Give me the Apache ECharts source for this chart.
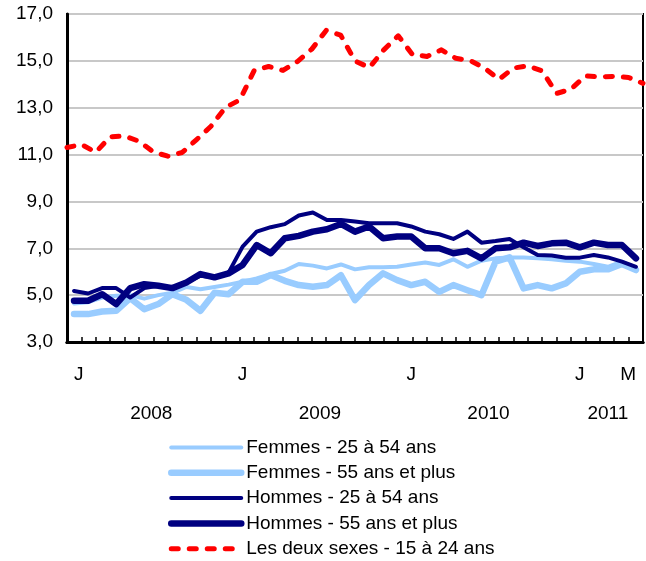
<!DOCTYPE html>
<html>
<head>
<meta charset="utf-8">
<script src="https://cdn.jsdelivr.net/npm/echarts@6/dist/echarts.min.js"></script>
<style>
  html, body { margin: 0; padding: 0; background: #fff; }
  #chart { width: 646px; height: 561px; }
</style>
</head>
<body>
<div id="chart"></div>
<script>
// mois, janvier 2008 a mai 2011
const months = [
  '2008-01','2008-02','2008-03','2008-04','2008-05','2008-06','2008-07','2008-08','2008-09','2008-10','2008-11','2008-12',
  '2009-01','2009-02','2009-03','2009-04','2009-05','2009-06','2009-07','2009-08','2009-09','2009-10','2009-11','2009-12',
  '2010-01','2010-02','2010-03','2010-04','2010-05','2010-06','2010-07','2010-08','2010-09','2010-10','2010-11','2010-12',
  '2011-01','2011-02','2011-03','2011-04','2011-05'
]
const tickLabelIndex = [0, 12, 24, 36, 40]
const tickLabelText = ['J', 'J', 'J', 'J', 'M']
const years = ['2008', '2009', '2010', '2011']
const yearCenters = [5.5, 17.5, 29.5, 38]

const femmes2554 = [4.64, 4.7, 4.9, 4.97, 5.0, 4.85, 5.0, 5.1, 5.35, 5.25, 5.35, 5.45, 5.57, 5.71, 5.9, 6.04, 6.33, 6.26, 6.14, 6.31,
  6.1, 6.19, 6.19, 6.21, 6.31, 6.39, 6.29, 6.53, 6.21, 6.47, 6.57, 6.61, 6.61, 6.57, 6.53, 6.47, 6.43, 6.33, 6.21, 6.43, 6.07]
const femmes55 = [4.19, 4.19, 4.3, 4.33, 4.87, 4.4, 4.62, 5.04, 4.8, 4.33, 5.1, 5.04, 5.57, 5.57, 5.86, 5.61, 5.43, 5.36, 5.43, 5.85,
  4.79, 5.43, 5.93, 5.64, 5.43, 5.57, 5.14, 5.43, 5.21, 5.0, 6.43, 6.61, 5.29, 5.43, 5.29, 5.5, 6.0, 6.1, 6.1, 6.33, 6.07]
const hommes2554 = [5.18, 5.07, 5.3, 5.3, 4.9, 5.3, 5.4, 5.3, 5.54, 5.83, 5.75, 5.96, 7.07, 7.71, 7.9, 8.03, 8.4, 8.53, 8.21, 8.21,
  8.14, 8.07, 8.07, 8.07, 7.93, 7.71, 7.6, 7.4, 7.71, 7.24, 7.31, 7.4, 7.04, 6.71, 6.69, 6.6, 6.6, 6.71, 6.61, 6.43, 6.21]
const hommes55 = [4.76, 4.76, 5.04, 4.62, 5.3, 5.47, 5.4, 5.3, 5.54, 5.9, 5.76, 5.93, 6.29, 7.14, 6.79, 7.43, 7.53, 7.71, 7.81, 8.04,
  7.71, 7.93, 7.43, 7.5, 7.5, 7.0, 7.0, 6.79, 6.89, 6.57, 7.0, 7.04, 7.24, 7.1, 7.21, 7.24, 7.04, 7.24, 7.14, 7.14, 6.57]
const deuxSexes1524 = [11.3, 11.43, 11.1, 11.76, 11.79, 11.57, 11.11, 10.93, 11.09, 11.64, 12.21, 13.01, 13.33, 14.59, 14.76, 14.59, 14.97, 15.5, 16.3, 16.1,
  15.0, 14.71, 15.47, 16.07, 15.26, 15.19, 15.47, 15.11, 15.01, 14.69, 14.21, 14.69, 14.79, 14.57, 13.61, 13.79, 14.36, 14.31, 14.34, 14.29, 14.04]

const font = 'Liberation Sans, Arial, sans-serif'
const lightBlue = '#99CCFF'
const navy = '#000080'

const myChart = echarts.init(document.getElementById('chart'))

const lineSeries = (name, data, color, width) => ({
  name: name,
  type: 'line',
  data: data,
  xAxisIndex: 0,
  symbol: 'none',
  lineStyle: { color: color, width: width, cap: 'round', join: 'round' },
  itemStyle: { color: color }
})

myChart.setOption({
  animation: false,
  textStyle: { fontFamily: font },
  grid: {
    left: 67, right: 3, top: 14, bottom: 219,
    show: true, borderColor: '#000', borderWidth: 2
  },
  legend: {
    orient: 'vertical',
    left: 168,
    top: 438,
    height: 160,
    padding: 0,
    itemWidth: 70,
    itemHeight: 14,
    itemGap: 6.3,
    itemStyle: { opacity: 0 },
    lineStyle: { width: 'inherit' },
    textStyle: { fontFamily: font, fontSize: 19, color: '#000' },
    data: ['Femmes - 25 à 54 ans', 'Femmes - 55 ans et plus', 'Hommes - 25 à 54 ans', 'Hommes - 55 ans et plus', 'Les deux sexes - 15 à 24 ans']
  },
  xAxis: [
    {
      type: 'category',
      data: months,
      boundaryGap: true,
      axisLine: { show: true, onZero: false, lineStyle: { color: '#000', width: 3 } },
      axisTick: { show: false },
      axisLabel: {
        interval: 0,
        margin: 23,
        fontSize: 19,
        color: '#000',
        alignMinLabel: 'left',
        alignMaxLabel: 'right',
        formatter: (v, idx) => {
          const k = tickLabelIndex.indexOf(idx)
          return k >= 0 ? tickLabelText[k] : ''
        }
      },
      splitLine: { show: false }
    },
    {
      type: 'category',
      data: months,
      position: 'bottom',
      boundaryGap: false,
      axisLine: { show: true, onZero: false, lineStyle: { color: '#000', width: 3 } },
      axisTick: { show: true, inside: true, length: 5, interval: 0, lineStyle: { color: '#000', width: 1.5 } },
      axisLabel: { show: false },
      splitLine: { show: false }
    },
    {
      type: 'value',
      position: 'bottom',
      min: -0.5,
      max: 40.5,
      interval: 0.5,
      axisLine: { show: false, onZero: false },
      axisTick: { show: false },
      splitLine: { show: false },
      axisLabel: {
        margin: 62,
        fontSize: 19,
        color: '#000',
        showMinLabel: true,
        showMaxLabel: true,
        formatter: v => {
          const k = yearCenters.indexOf(v)
          return k >= 0 ? years[k] : ''
        }
      }
    }
  ],
  yAxis: {
    type: 'value',
    min: 3,
    max: 17,
    interval: 2,
    axisLine: { show: true, onZero: false, lineStyle: { color: '#000', width: 3 } },
    axisTick: { show: false },
    axisLabel: {
      margin: 14,
      fontSize: 19,
      color: '#000',
      formatter: v => v.toFixed(1).replace('.', ',')
    },
    splitLine: { show: true, lineStyle: { color: '#c8c8c8', width: 2 } }
  },
  series: [
    lineSeries('Femmes - 25 à 54 ans', femmes2554, lightBlue, 4),
    lineSeries('Femmes - 55 ans et plus', femmes55, lightBlue, 6.5),
    lineSeries('Hommes - 25 à 54 ans', hommes2554, navy, 4),
    lineSeries('Hommes - 55 ans et plus', hommes55, navy, 6.5),
    {
      name: 'Les deux sexes - 15 à 24 ans',
      type: 'line',
      data: deuxSexes1524,
      xAxisIndex: 1,
      symbol: 'none',
      lineStyle: { color: '#FF0000', width: 5, type: [7, 11], cap: 'round', join: 'round' },
      itemStyle: { color: '#FF0000' }
    }
  ]
})
</script>
</body>
</html>
